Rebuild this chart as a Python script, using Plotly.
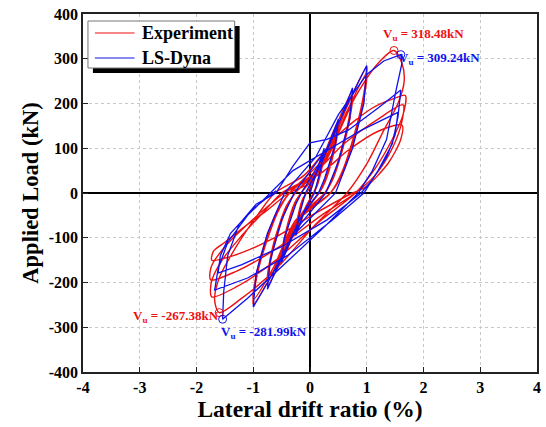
import plotly.graph_objects as go

# Experiment (red) hysteresis: lateral drift ratio (%) and applied load (kN)
exp_drift = [0,
    0.08, 0.17, 0.25, 0.21, 0.12, 0.06, -0.08, -0.17, -0.25, -0.21, -0.12, -0.06,
    0.08, 0.17, 0.25, 0.21, 0.12, 0.06, -0.08, -0.17, -0.25, -0.21, -0.12, -0.06,
    0.15, 0.33, 0.5, 0.43, 0.27, 0.16, -0.15, -0.33, -0.5, -0.43, -0.27, -0.16,
    0.15, 0.33, 0.5, 0.43, 0.27, 0.16, -0.15, -0.33, -0.5, -0.43, -0.27, -0.16,
    0.2, 0.5, 0.75, 0.66, 0.42, 0.26, -0.2, -0.5, -0.75, -0.66, -0.42, -0.26,
    0.2, 0.5, 0.75, 0.66, 0.42, 0.26, -0.2, -0.5, -0.75, -0.66, -0.42, -0.26,
    0.25, 0.65, 1.0, 0.9, 0.58, 0.36, -0.25, -0.65, -1.0, -0.9, -0.58, -0.36,
    0.25, 0.65, 1.0, 0.9, 0.58, 0.36, -0.25, -0.65, -1.0, -0.9, -0.58, -0.36,
    0.3, 0.8, 1.2, 1.48, 1.62, 1.66, 1.55, 1.3, 1.0, 0.65, 0.1, -0.6, -1.2, -1.6, -1.68, -1.6, -1.3, -0.9, -0.62,
    -0.1, 0.5, 1.1, 1.5, 1.68, 1.64, 1.45, 1.15, 0.8, 0.2, -0.6, -1.3, -1.73, -1.74, -1.55, -1.2, -0.8, -0.5,
    0.0, 0.6, 1.2, 1.64, 1.62, 1.45, 1.15, 0.8, 0.2, -0.6, -1.3, -1.75, -1.74, -1.5, -1.1, -0.7, -0.45,
    0.2, 0.68, 1.2, 1.62, 1.6, 1.38, 0.98, 0.75, 0.1, -0.7, -1.35, -1.73, -1.7, -1.5, -1.1, -0.77, -0.37, 0.0]
exp_load = [0,
    35, 70, 95, 62, 18, 0, -35, -68, -90, -56, -14, 0,
    33, 66, 88, 56, 14, 0, -32, -63, -85, -50, -11, 0,
    50, 112, 162, 108, 32, 0, -50, -105, -150, -96, -26, 0,
    46, 102, 150, 96, 26, 0, -46, -98, -140, -88, -22, 0,
    62, 162, 228, 150, 42, 0, -60, -150, -206, -132, -36, 0,
    56, 150, 216, 140, 36, 0, -55, -140, -196, -122, -30, 0,
    72, 192, 282, 190, 52, 0, -66, -176, -248, -166, -46, 0,
    66, 182, 268, 180, 46, 0, -60, -168, -238, -156, -40, 0,
    85, 215, 290, 318.48, 290, 250, 200, 140, 65, 0, -70, -170, -235, -267.38, -240, -190, -120, -45, 0,
    40, 130, 190, 212, 218, 175, 120, 55, 0, -60, -150, -210, -232, -200, -150, -95, -40, 0,
    35, 110, 165, 197, 160, 100, 40, 0, -50, -125, -175, -194, -165, -120, -70, -25, 0,
    45, 96, 138, 152, 120, 67, 13, 0, -45, -105, -140, -150, -130, -110, -70, -40, 0, 20]

# LS-Dyna (blue) hysteresis
dyna_drift = [0,
    0.1, 0.25, 0.2, 0.08, -0.1, -0.25, -0.2, -0.08,
    0.2, 0.5, 0.45, 0.25, 0.15, -0.2, -0.5, -0.45, -0.25, -0.15,
    0.3, 0.55, 0.75, 0.7, 0.5, 0.28, -0.3, -0.55, -0.75, -0.7, -0.5, -0.28,
    0.3, 0.7, 1.0, 0.95, 0.75, 0.45, -0.3, -0.7, -1.0, -0.95, -0.75, -0.45,
    0.1, 0.5, 1.0, 1.3, 1.6, 1.62, 1.5, 1.35, 1.1, 0.85, 0.3, -0.5, -1.1, -1.54, -1.52, -1.45, -1.25, -0.95, -0.6,
    -0.3, 0.0, 0.3, 0.68, 1.2, 1.6, 1.55, 1.45, 1.2, 0.95, 0.4, -0.4, -1.1, -1.68, -1.62, -1.45, -1.1, -0.7,
    -0.3, 0.3, 0.9, 1.55, 1.5, 1.35, 1.1, 0.9, 0.3, -0.5, -1.2, -1.62, -1.58, -1.4, -1.0, -0.6]
dyna_load = [0,
    40, 100, 60, 0, -40, -95, -55, 0,
    65, 165, 110, 30, 0, -62, -155, -100, -25, 0,
    95, 170, 235, 165, 70, 0, -90, -160, -215, -150, -60, 0,
    100, 210, 285, 200, 100, 0, -95, -190, -255, -180, -90, 0,
    80, 175, 265, 295, 309.24, 290, 220, 120, 50, 0, -70, -165, -235, -281.99, -220, -140, -70, -25, 0,
    60, 112, 120, 141, 190, 230, 170, 110, 50, 0, -60, -140, -190, -217, -170, -110, -50, 0,
    50, 95, 140, 180, 130, 80, 30, 0, -60, -120, -160, -179, -140, -90, -35, 5]

# Peak points and their labels
peak_drift = [1.48, 1.6, -1.6, -1.54]
peak_load = [318.48, 309.24, -267.38, -281.99]
peak_text = ["V<sub>u</sub> = 318.48kN", "V<sub>u</sub> = 309.24kN",
             "V<sub>u</sub> = -267.38kN", "V<sub>u</sub> = -281.99kN"]
x_ticks = [-4, -3, -2, -1, 0, 1, 2, 3, 4]
y_ticks = [-400, -300, -200, -100, 0, 100, 200, 300, 400]
series_names = ["Experiment", "LS-Dyna"]

RED = "#ee1111"
BLUE = "#1111ee"
FONT = "Liberation Serif"

fig = go.Figure()
fig.add_trace(go.Scatter(x=exp_drift, y=exp_load, mode="lines", name=series_names[0],
                         line=dict(color=RED, width=1.4, shape="spline", smoothing=0.8)))
fig.add_trace(go.Scatter(x=dyna_drift, y=dyna_load, mode="lines", name=series_names[1],
                         line=dict(color=BLUE, width=1.3)))
fig.add_trace(go.Scatter(x=peak_drift[0::2], y=peak_load[0::2], mode="markers",
                         marker=dict(symbol="circle-open", size=8, color=RED, line=dict(width=1))))
fig.add_trace(go.Scatter(x=peak_drift[1::2], y=peak_load[1::2], mode="markers",
                         marker=dict(symbol="circle-open", size=8, color=BLUE, line=dict(width=1))))

ann_pos = [(30, -16), (39, 4), (-43, 4), (41, 13)]
colors = [RED, BLUE, RED, BLUE]
for (dx, dy), xv, yv, t, c in zip(ann_pos, peak_drift, peak_load, peak_text, colors):
    fig.add_annotation(x=xv, y=yv, text=t, showarrow=True, arrowcolor="rgba(0,0,0,0)",
                       ax=dx, ay=dy, font=dict(family=FONT, size=13, color=c, weight="bold"))

# Manual legend with drop shadow (pixel positions converted to paper coords)
def px(v):
    return (v - 83) / 458

def py(v):
    return (372 - v) / 358

fig.add_shape(type="rect", xref="paper", yref="paper", x0=px(93), x1=px(241), y0=py(73), y1=py(26),
              fillcolor="black", line=dict(width=0), layer="above")
fig.add_shape(type="rect", xref="paper", yref="paper", x0=px(88), x1=px(236), y0=py(68), y1=py(21),
              fillcolor="white", line=dict(color="#777", width=1), layer="above")
for name, c, ly in zip(series_names, [RED, BLUE], [33, 58]):
    fig.add_shape(type="line", xref="paper", yref="paper", x0=px(95), x1=px(135), y0=py(ly), y1=py(ly),
                  line=dict(color=c, width=1.2), layer="above")
    fig.add_annotation(x=px(141), y=py(ly), xref="paper", yref="paper", text=name, showarrow=False,
                       xanchor="left", yanchor="middle",
                       font=dict(family=FONT, size=18, color="black", weight="bold"))

axis_common = dict(showline=True, linecolor="#222", linewidth=1.5, mirror=True,
                   ticks="inside", ticklen=5, tickcolor="#222",
                   showgrid=True, gridcolor="#c8c8c8", griddash="dot", gridwidth=1,
                   zeroline=True, zerolinecolor="black", zerolinewidth=1.5,
                   tickfont=dict(family=FONT, size=16, color="black", weight="bold"))
fig.update_xaxes(range=[-4, 4], tickvals=x_ticks, ticktext=[str(v) for v in x_ticks], **axis_common,
                 title=dict(text="Lateral drift ratio (%)", standoff=6,
                            font=dict(family=FONT, size=23.5, color="black", weight="bold")))
fig.update_yaxes(range=[-400, 400], tickvals=y_ticks, ticktext=[str(v) for v in y_ticks], **axis_common,
                 title=dict(text="Applied Load (kN)", standoff=4,
                            font=dict(family=FONT, size=22.5, color="black", weight="bold")))
fig.update_layout(width=546, height=427, margin=dict(l=83, r=5, t=14, b=55),
                  paper_bgcolor="white", plot_bgcolor="white", showlegend=False)
fig.write_html("out.html")
